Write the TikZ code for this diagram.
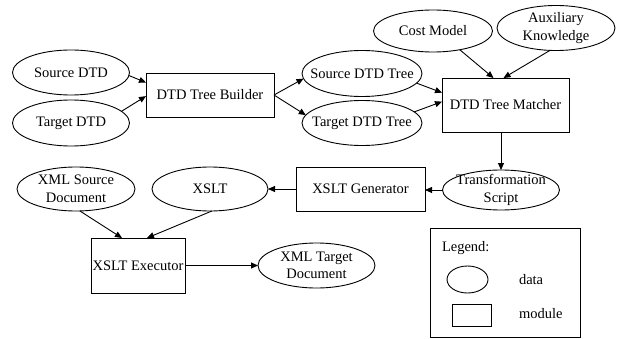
\documentclass[tikz,border=0pt]{standalone}
\usepackage{fontspec}
\setmainfont{Liberation Serif}
\usetikzlibrary{arrows.meta,calc,shapes.geometric}

\tikzset{
  every node/.style={inner sep=0pt, outer sep=0pt},
  data/.style={draw, ellipse, line width=0.9pt},
  module/.style={draw, rectangle, line width=0.9pt,
    font=\fontsize{14.5}{17.5}\selectfont},
  lbl/.style={align=center, font=\fontsize{14.5}{17.5}\selectfont},
  flow/.style={draw, line width=0.9pt, -{Triangle[length=7pt,width=6pt]}},
}

\begin{document}
\begin{tikzpicture}[x=1pt, y=-1pt]
\useasboundingbox (0,0) rectangle (620,339);

% data items (ellipse outline plus its caption)
\node[data, minimum width=117pt, minimum height=45pt] (sdtd) at (71,72.5) {};
\node[lbl] (sdtd-t) at (sdtd) {Source DTD};
\node[data, minimum width=117pt, minimum height=46pt] (tdtd) at (71,123) {};
\node[lbl] (tdtd-t) at (tdtd) {Target DTD};

\node[data, minimum width=120pt, minimum height=46pt] (sdt) at (362,73.5) {};
\node[lbl] (sdt-t) at (sdt) {Source DTD Tree};
\node[data, minimum width=120pt, minimum height=45pt] (tdt) at (362,123) {};
\node[lbl] (tdt-t) at (tdt) {Target DTD Tree};

\node[data, minimum width=119pt, minimum height=42pt] (cost) at (433,31) {};
\node[lbl] (cost-t) at (cost) {Cost Model};
\node[data, minimum width=118pt, minimum height=45pt] (aux) at (556,28) {};
\node[lbl] (aux-t) at (aux) {Auxiliary\\Knowledge};

\node[data, minimum width=117pt, minimum height=40pt] (trans) at (501,190) {};
\node[lbl] (trans-t) at (trans) {Transformation\\Script};

\node[data, minimum width=116pt, minimum height=44pt] (xslt) at (210,189) {};
\node[lbl] (xslt-t) at (xslt) {XSLT};
\node[data, minimum width=118pt, minimum height=44pt] (xsrc) at (76,189) {};
\node[lbl] (xsrc-t) at (xsrc) {XML Source\\Document};
\node[data, minimum width=117pt, minimum height=45pt] (xtgt) at (316.5,265.5) {};
\node[lbl] (xtgt-t) at (xtgt) {XML Target\\Document};

% modules
\node[module, minimum width=128pt, minimum height=44pt] (builder) at (210,95) {DTD Tree Builder};
\node[module, minimum width=127pt, minimum height=54pt] (matcher) at (505.5,105) {DTD Tree Matcher};
\node[module, minimum width=129pt, minimum height=44pt] (gen) at (360.5,189) {XSLT Generator};
\node[module, minimum width=94pt, minimum height=55pt] (exec) at (138,265.5) {XSLT Executor};

% connectors
\path[flow] (sdtd.-3) -- (builder.169);
\path[flow] (tdtd.13) -- (builder.181);
\path[flow] (builder.east) -- (sdt.185);
\path[flow] (builder.east) -- (tdt.172);
\path[flow] (sdt.-10) -- (matcher.169);
\path[flow] (tdt.12) -- (matcher.177);
\path[flow] (cost.-35) -- ($(matcher.north)+(-12,0)$);
\path[flow] (aux.-105) -- ($(matcher.north)+(-2,0)$);
\path[flow] (matcher.south -| trans.north) -- (trans.north);
\path[flow] (trans.west) -- (trans.west -| gen.east);
\path[flow] (gen.west) -- (xslt.east);
\path[flow] (xsrc.-80) -- ($(exec.north)+(-16,0)$);
\path[flow] (xslt.-85) -- ($(exec.north)+(9,0)$);
\path[flow] (exec.east) -- (xtgt.west);

% legend
\node[draw, line width=0.9pt, minimum width=150pt, minimum height=109pt] (legend) at (505,283) {};
\node[lbl, anchor=west] (legend-t) at (442,248) {Legend:};
\node[data, minimum width=41pt, minimum height=27pt] (leg-data) at (467.5,279.5) {};
\node[lbl, anchor=west] (leg-data-t) at (519,279.5) {data};
\node[draw, line width=0.9pt, minimum width=39pt, minimum height=22pt] (leg-mod) at (471.5,315) {};
\node[lbl, anchor=west] (leg-mod-t) at (519,314) {module};
\end{tikzpicture}
\end{document}
